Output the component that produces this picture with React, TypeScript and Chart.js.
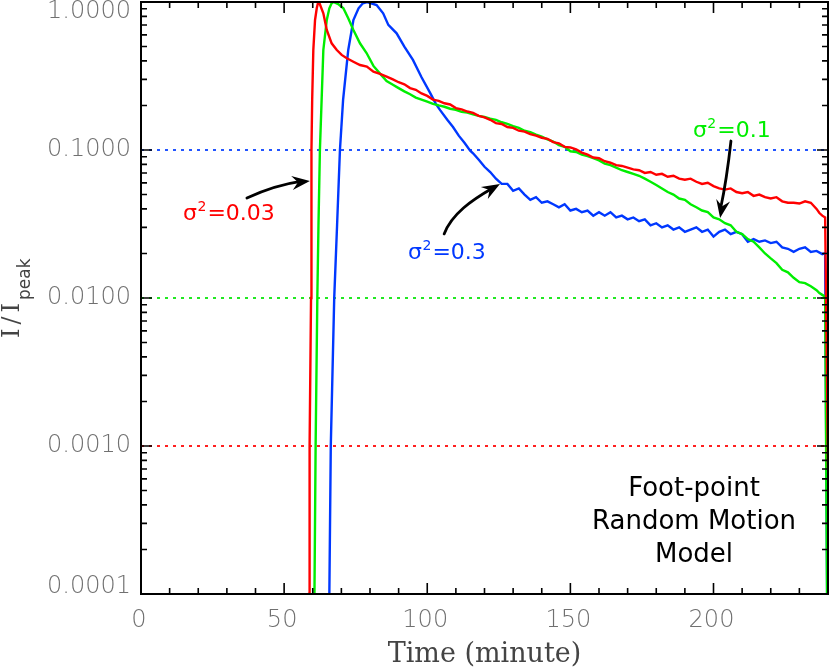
import React, { useEffect, useRef } from "react";
import { Chart, registerables } from "chart.js";

Chart.register(...registerables);

// ---------------- data ----------------
const xTickValues = [0, 50, 100, 150, 200];
const yTickValues = [0.0001, 0.001, 0.01, 0.1, 1];
const yTickLabels = ["0.0001", "0.0010", "0.0100", "0.1000", "1.0000"];
const referenceLevels = [0.1, 0.01, 0.001];
const referenceColors = ["#2255ff", "#22e822", "#ff2020"];
const seriesNames = ["0.03", "0.1", "0.3"];
const seriesColors = ["#ff0000", "#00ee00", "#0038ff"];

// sigma^2 = 0.03  [time (minute), I/Ipeak]
const redCurve: [number, number][] = [
  [58.6, 0.00005], [58.7, 0.0001], [58.9, 0.001], [59.4, 0.01], [59.5, 0.031], [59.6, 0.1],
  [59.8, 0.218], [60.2, 0.474], [60.8, 0.756], [61.4, 0.906], [61.8, 0.98], [62.2, 1.0],
  [63.7, 0.838], [64.9, 0.647], [66.6, 0.526], [68.4, 0.474], [70.1, 0.439], [71.9, 0.417],
  [74.2, 0.395], [76.5, 0.375], [78.9, 0.366], [81.2, 0.338], [83.5, 0.327], [85.8, 0.313],
  [88, 0.300], [90, 0.287], [92, 0.278], [94, 0.262], [96, 0.255], [98, 0.241], [100, 0.232],
  [102, 0.219], [104, 0.215], [106, 0.207], [108, 0.203], [110, 0.192], [112, 0.188], [114, 0.182],
  [116, 0.178], [118, 0.170], [120, 0.166], [122, 0.160], [124, 0.152], [126, 0.150], [128, 0.143],
  [130, 0.141], [132, 0.135], [134, 0.133], [136, 0.128], [138, 0.125], [140, 0.121], [142, 0.119],
  [144, 0.113], [146, 0.111], [148, 0.105], [150, 0.104], [152, 0.101], [154, 0.096], [156, 0.093],
  [158, 0.089], [160, 0.088], [162, 0.084], [164, 0.082], [166, 0.079], [168, 0.078], [170, 0.076],
  [172, 0.074], [174, 0.073], [176, 0.070], [178, 0.071], [180, 0.068], [182, 0.069], [184, 0.066],
  [186, 0.067], [188, 0.064], [190, 0.063], [192, 0.064], [194, 0.061], [196, 0.059], [198, 0.060],
  [200, 0.057], [202, 0.055], [204, 0.054], [206, 0.055], [208, 0.052], [210, 0.051], [212, 0.052],
  [214, 0.049], [216, 0.050], [218, 0.048], [220, 0.047], [222, 0.048], [224, 0.045], [226, 0.044],
  [228, 0.044], [230, 0.0435], [232, 0.045], [234, 0.044], [236, 0.040], [237, 0.0375], [238, 0.036],
  [239, 0.035], [240, 0.0007],
];

// sigma^2 = 0.1
const greenCurve: [number, number][] = [
  [60.4, 0.00005], [60.6, 0.0001], [61.0, 0.001], [61.6, 0.01], [62.0, 0.031], [62.5, 0.1],
  [63.1, 0.218], [63.7, 0.474], [64.9, 0.756], [65.8, 0.906], [66.6, 0.98], [67.2, 1.0],
  [68.9, 0.969], [70.7, 0.906], [72.4, 0.776], [74.2, 0.647], [76.5, 0.526], [78.8, 0.452],
  [81.2, 0.37], [83.5, 0.328], [85.8, 0.292], [88, 0.276], [90, 0.262], [92, 0.249], [94, 0.238],
  [96, 0.226], [98, 0.219], [100, 0.212], [102, 0.205], [104, 0.200], [106, 0.196], [108, 0.190],
  [110, 0.187], [112, 0.181], [114, 0.179], [116, 0.174], [118, 0.170], [120, 0.167], [122, 0.163],
  [124, 0.160], [126, 0.154], [128, 0.150], [130, 0.145], [132, 0.141], [134, 0.135], [136, 0.132],
  [138, 0.127], [140, 0.123], [142, 0.118], [144, 0.114], [146, 0.108], [148, 0.105], [150, 0.098],
  [152, 0.097], [154, 0.093], [156, 0.091], [158, 0.088], [160, 0.085], [162, 0.081], [164, 0.079],
  [166, 0.076], [168, 0.073], [170, 0.071], [172, 0.069], [174, 0.067], [176, 0.064], [178, 0.061],
  [180, 0.058], [182, 0.055], [184, 0.052], [186, 0.050], [188, 0.047], [190, 0.046], [192, 0.043],
  [194, 0.041], [196, 0.039], [198, 0.038], [200, 0.035], [202, 0.034], [204, 0.032], [206, 0.031],
  [208, 0.028], [210, 0.027], [212, 0.025], [214, 0.024], [216, 0.022], [218, 0.020], [220, 0.0185],
  [222, 0.0172], [224, 0.0155], [226, 0.0149], [228, 0.0137], [230, 0.0128], [232, 0.0126],
  [234, 0.0120], [236, 0.0113], [237, 0.0108], [238, 0.0105], [239, 0.0102], [240, 0.00001],
];

// sigma^2 = 0.3
const blueCurve: [number, number][] = [
  [65.6, 0.00005], [65.8, 0.0001], [66.3, 0.001], [67.5, 0.01], [68.5, 0.031], [69.5, 0.1],
  [70.6, 0.218], [72.4, 0.474], [74.2, 0.756], [76.0, 0.906], [77.5, 0.98], [79.0, 1.0],
  [82.3, 0.954], [84.6, 0.838], [86.4, 0.70], [89.3, 0.614], [92, 0.50], [95, 0.406], [98, 0.31],
  [101, 0.243], [103, 0.205], [104.5, 0.186], [107, 0.160], [109, 0.143], [111, 0.125], [113, 0.112],
  [115, 0.099], [116, 0.095], [118, 0.086], [120, 0.077], [122, 0.071], [124, 0.064], [126, 0.059],
  [128, 0.059], [130, 0.053], [132, 0.055], [134, 0.050], [136, 0.046], [138, 0.048], [140, 0.044],
  [142, 0.045], [144, 0.043], [146, 0.041], [148, 0.043], [150, 0.039], [152, 0.040], [154, 0.038],
  [156, 0.039], [158, 0.036], [160, 0.038], [162, 0.036], [164, 0.038], [166, 0.035], [168, 0.036],
  [170, 0.034], [172, 0.035], [174, 0.033], [176, 0.034], [178, 0.031], [180, 0.032], [182, 0.030],
  [184, 0.031], [186, 0.029], [188, 0.030], [190, 0.028], [192, 0.029], [194, 0.030], [196, 0.028],
  [198, 0.029], [200, 0.026], [202, 0.028], [204, 0.029], [206, 0.027], [208, 0.028], [210, 0.027],
  [212, 0.024], [214, 0.025], [216, 0.024], [218, 0.0245], [220, 0.0235], [222, 0.024], [224, 0.022],
  [226, 0.0215], [228, 0.0205], [230, 0.0215], [232, 0.022], [234, 0.0205], [236, 0.0208],
  [238, 0.0198], [239, 0.0201], [240, 0.00001],
];

const modelLines = ["Foot-point", "Random Motion", "Model"];

// ---------------- drawing helpers ----------------
function arrowHead(ctx: CanvasRenderingContext2D, tipX: number, tipY: number, fromX: number, fromY: number) {
  const ang = Math.atan2(tipY - fromY, tipX - fromX);
  const L = 18, W = 7, N = 12;
  ctx.save();
  ctx.translate(tipX, tipY);
  ctx.rotate(ang);
  ctx.beginPath();
  ctx.moveTo(0, 0);
  ctx.lineTo(-L, -W);
  ctx.lineTo(-N, 0);
  ctx.lineTo(-L, W);
  ctx.closePath();
  ctx.fill();
  ctx.restore();
}

function drawSigma(ctx: CanvasRenderingContext2D, x: number, y: number, value: string, color: string) {
  ctx.fillStyle = color;
  ctx.textAlign = "left";
  ctx.textBaseline = "alphabetic";
  ctx.font = '22px "DejaVu Sans"';
  ctx.fillText("\u03c3", x, y);
  const w1 = ctx.measureText("\u03c3").width;
  ctx.font = '14px "DejaVu Sans"';
  ctx.fillText("2", x + w1 + 0.5, y - 9);
  const w2 = ctx.measureText("2").width;
  ctx.font = '22px "DejaVu Sans"';
  ctx.fillText("=" + value, x + w1 + w2 + 1.5, y);
}

const axesPlugin = {
  id: "idlAxes",
  afterDraw(chart: any) {
    const { ctx, chartArea: a, scales } = chart;
    const xs = scales.x;
    const ys = scales.y;
    const X = (t: number) => xs.getPixelForValue(t);
    const Y = (v: number) => ys.getPixelForValue(v);
    ctx.save();

    // frame
    ctx.strokeStyle = "#000";
    ctx.lineWidth = 2;
    ctx.strokeRect(a.left, a.top, a.right - a.left, a.bottom - a.top);

    // x ticks (top & bottom)
    ctx.lineWidth = 1.6;
    for (let t = 0; t <= 240; t += 10) {
      const px = X(t);
      const len = t % 50 === 0 ? 11 : 6;
      ctx.beginPath();
      ctx.moveTo(px, a.bottom);
      ctx.lineTo(px, a.bottom - len);
      ctx.moveTo(px, a.top);
      ctx.lineTo(px, a.top + len);
      ctx.stroke();
    }
    // y ticks (left & right)
    for (let e = -4; e <= 0; e++) {
      for (let k = 1; k <= 9; k++) {
        const v = k * Math.pow(10, e);
        if (v > 1.0001) break;
        const py = Y(v);
        const len = k === 1 ? 11 : 6;
        ctx.beginPath();
        ctx.moveTo(a.left, py);
        ctx.lineTo(a.left + len, py);
        ctx.moveTo(a.right, py);
        ctx.lineTo(a.right - len, py);
        ctx.stroke();
      }
    }

    // tick labels
    ctx.fillStyle = "#707070";
    ctx.font = '200 24px "DejaVu Sans"';
    ctx.textAlign = "center";
    ctx.textBaseline = "middle";
    xTickValues.forEach((t) => ctx.fillText(String(t), X(t) - 2, a.bottom + 27));
    ctx.textAlign = "right";
    yTickValues.forEach((v, i) => {
      const py = Math.min(Math.max(Y(v), a.top + 10), a.bottom - 7);
      ctx.fillText(yTickLabels[i], a.left - 10, py);
    });

    // axis titles
    ctx.fillStyle = "#444";
    ctx.font = '27px "DejaVu Serif"';
    ctx.textAlign = "center";
    ctx.fillText("Time (minute)", (a.left + a.right) / 2, a.bottom + 61);

    ctx.save();
    ctx.translate(19, 338);
    ctx.rotate(-Math.PI / 2);
    ctx.textAlign = "left";
    ctx.textBaseline = "alphabetic";
    ctx.font = '24px "DejaVu Serif"';
    (ctx as any).letterSpacing = "4px";
    ctx.fillText("I/I", 0, 0);
    const wI = ctx.measureText("I/I").width;
    (ctx as any).letterSpacing = "0px";
    ctx.font = '17px "DejaVu Sans"';
    ctx.fillText("peak", wI - 1, 11);
    ctx.restore();

    // annotations
    ctx.textBaseline = "alphabetic";
    drawSigma(ctx, X(14.7), Y(0.0336), seriesNames[0], seriesColors[0]);
    drawSigma(ctx, X(93.3), Y(0.01835), seriesNames[2], seriesColors[2]);
    drawSigma(ctx, X(192.8), Y(0.1224), seriesNames[1], seriesColors[1]);

    ctx.strokeStyle = "#000";
    ctx.fillStyle = "#000";
    ctx.lineWidth = 2.8;
    ctx.lineCap = "round";
    // red arrow
    {
      const sx = X(37.0), sy = Y(0.0474), cx = X(47.0), cy = Y(0.058), ex = X(59.0), ey = Y(0.0618);
      ctx.beginPath();
      ctx.moveTo(sx, sy);
      ctx.quadraticCurveTo(cx, cy, ex - 9, ey + 0.5);
      ctx.stroke();
      arrowHead(ctx, ex, ey, cx, cy);
    }
    // blue arrow
    {
      const sx = X(105.9), sy = Y(0.0271), c1x = X(108.6), c1y = Y(0.037), c2x = X(115.6), c2y = Y(0.0459),
        ex = X(125.4), ey = Y(0.0589);
      ctx.beginPath();
      ctx.moveTo(sx, sy);
      ctx.bezierCurveTo(c1x, c1y, c2x, c2y, ex - 8, ey + 4.5);
      ctx.stroke();
      arrowHead(ctx, ex, ey, c2x, c2y);
    }
    // green arrow
    {
      const sx = X(206.1), sy = Y(0.115), cx = X(204.6), cy = Y(0.0627), ex = X(202.3), ey = Y(0.0347);
      ctx.beginPath();
      ctx.moveTo(sx, sy);
      ctx.quadraticCurveTo(cx, cy, ex + 0.6, ey - 10);
      ctx.stroke();
      arrowHead(ctx, ex, ey, cx, cy);
    }

    // model text
    ctx.fillStyle = "#000";
    ctx.font = '26px "DejaVu Sans"';
    ctx.textAlign = "center";
    const mx = X(193.2);
    const my = Y(0.000459);
    modelLines.forEach((s, i) => ctx.fillText(s, mx, my + i * 33));

    ctx.restore();
  },
};

function toPoints(curve: [number, number][]) {
  return curve.map(([x, y]) => ({ x, y }));
}

export default function App() {
  const ref = useRef<HTMLCanvasElement | null>(null);
  useEffect(() => {
    if (!ref.current) return;
    const curveDatasets = [redCurve, greenCurve, blueCurve].map((c, i) => ({
      label: "\u03c3\u00b2=" + seriesNames[i],
      data: toPoints(c),
      borderColor: seriesColors[i],
      borderWidth: 2.4,
      pointRadius: 0,
      fill: false,
      tension: 0,
    }));
    const refDatasets = referenceLevels.map((lv, i) => ({
      label: "ref" + i,
      data: [{ x: 0, y: lv }, { x: 240, y: lv }],
      borderColor: referenceColors[i],
      borderWidth: 1.8,
      borderDash: [3, 5],
      pointRadius: 0,
      fill: false,
    }));
    const chart = new Chart(ref.current, {
      type: "line",
      data: { datasets: [...curveDatasets, ...refDatasets] as any },
      options: {
        responsive: false,
        animation: false,
        layout: { padding: { left: 141, top: 2, right: 2, bottom: 78 } },
        plugins: { legend: { display: false }, tooltip: { enabled: false } },
        scales: {
          x: { type: "linear", min: 0, max: 240, display: false },
          y: { type: "logarithmic", min: 0.0001, max: 1, display: false },
        },
      },
      plugins: [axesPlugin],
    });
    return () => chart.destroy();
  }, []);
  return (
    <div style={{ position: "absolute", left: 0, top: 0, width: 830, height: 672, background: "#fff" }}>
      <canvas ref={ref} width={830} height={672} style={{ display: "block", width: 830, height: 672 }} />
    </div>
  );
}
